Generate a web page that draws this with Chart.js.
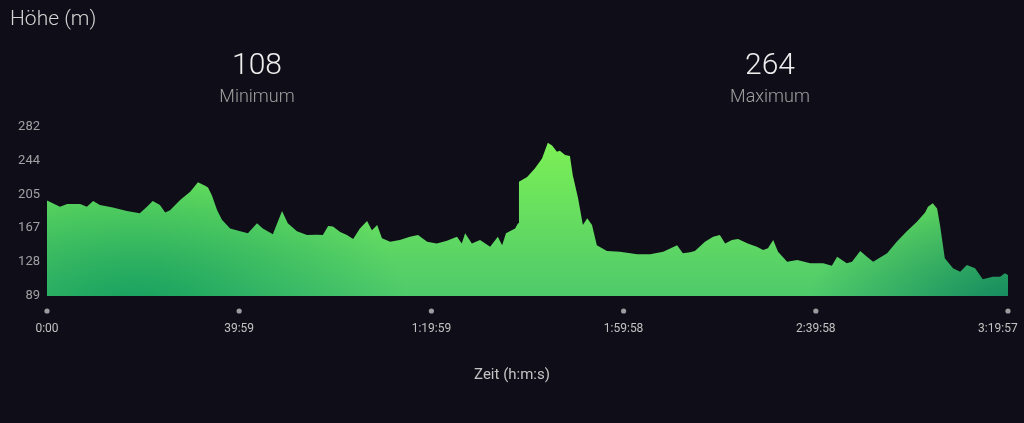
<!DOCTYPE html>
<html lang="de">
<head>
    <meta charset="UTF-8">
    <title>Höhe (m)</title>
    <script src="https://cdn.jsdelivr.net/npm/chart.js"></script>
    <style>
        * { margin: 0; padding: 0; box-sizing: border-box; }
        body { width: 1024px; height: 423px; background: #0f0e18; overflow: hidden; font-family: Roboto, 'Noto Sans', sans-serif; position: relative; }
        .title, .stat, .axis-title { will-change: transform; }
        .title { position: absolute; left: 10px; top: 6px; font-size: 21px; font-weight: 300; color: #d4d4d4; }
        .stat { position: absolute; top: 44px; width: 200px; text-align: center; }
        .stat .val { font-size: 30px; font-weight: 300; color: #eeeeee; line-height: 40px; }
        .stat .lbl { font-size: 18px; font-weight: 300; color: #a0a0a0; line-height: 24px; }
        .axis-title { position: absolute; left: 0; width: 1024px; top: 365px; text-align: center; font-size: 15px; color: #c4c4c4; }
        #wrap { position: absolute; left: 0; top: 0; width: 1024px; height: 423px; }
    </style>
</head>
<body>
    <div class="title">Höhe (m)</div>
    <div class="stat" style="left:157px"><div class="val">108</div><div class="lbl">Minimum</div></div>
    <div class="stat" style="left:670px"><div class="val">264</div><div class="lbl">Maximum</div></div>
    <div id="wrap"><canvas id="hoehe"></canvas></div>
    <div class="axis-title">Zeit (h:m:s)</div>

    <script>
        // Zeit in Minuten, Höhe in Metern
        const zeit = [0, 2.7, 4.2, 6.9, 8.3, 9.6, 11.0, 13.7, 16.6, 19.3, 20.8, 22.0, 23.5, 24.6, 25.6, 27.7, 29.8, 31.4, 32.9, 33.5,
            34.3, 35.4, 36.4, 38.1, 40.2, 41.8, 43.7, 44.9, 47.0, 48.9, 50.1, 52.0, 54.1, 56.2, 57.4, 58.5, 59.5, 61.0, 62.4, 63.7,
            65.1, 66.6, 67.6, 68.7, 69.7, 71.4, 73.4, 75.5, 77.2, 79.1, 81.1, 83.2, 85.3, 86.3, 87.0, 88.4, 90.1, 92.2, 93.8, 94.7,
            95.5, 97.4, 98.0, 98.2, 99.9, 101.5, 103.0, 104.2, 105.1, 106.1, 106.7, 107.8, 108.8, 109.4, 110.5, 111.5, 112.4, 113.4, 114.4, 116.5,
            119.2, 122.8, 125.5, 128.2, 131.1, 132.3, 133.8, 134.8, 136.9, 138.6, 140.0, 141.1, 142.5, 143.8, 145.8, 147.7, 149.0, 150.0, 151.1, 152.1,
            154.0, 156.1, 158.8, 161.5, 163.3, 164.4, 166.4, 167.5, 169.2, 170.6, 171.9, 174.8, 176.8, 178.9, 181.0, 182.7, 183.3, 184.3, 185.2, 185.8,
            186.8, 188.5, 190.0, 191.4, 193.1, 194.7, 196.8, 198.3, 199.3, 199.95];
        const hoehe = [198, 191, 194, 194, 191, 197.5, 193, 190, 186, 183.4, 191, 197.5, 193, 184.5, 187, 198.6, 208, 218.8, 215, 213,
            204, 187, 176, 166, 163, 160.6, 172, 166, 159.4, 186, 172, 163, 158.6, 159, 158.6, 169, 168.5, 162, 158.6, 154,
            166, 174.6, 164, 170, 155, 151, 153, 156.7, 158.6, 151, 149, 152, 156.7, 149, 160.6, 149, 153, 145.3, 156.7, 147,
            160.6, 166, 172, 219.5, 225, 234.7, 246, 264, 261, 253.7, 255, 250, 249, 227, 200.5, 170, 177.7, 170, 147, 140.4,
            139.6, 136.6, 136.6, 139.6, 147, 137.7, 139, 140.4, 151, 156.7, 158.6, 149, 153, 154, 149, 145.3, 141.5, 143.5, 153, 139.6,
            128.2, 130, 126.3, 126.3, 123.6, 133.9, 126.3, 128, 140.4, 133.9, 128.2, 137.7, 151, 163, 173.8, 184.5, 191, 194.8, 189, 170,
            132, 120.6, 116.7, 124.4, 120.6, 108, 111, 111, 115, 113];

        const yTicks = [89, 128, 167, 205, 244, 282];
        const xTicks = [0, 39.98, 79.98, 119.97, 159.97, 199.95];
        const xTickLabels = ['0:00', '39:59', '1:19:59', '1:59:58', '2:39:58', '3:19:57'];

        // Füllung: vertikaler Verlauf + dunklere Ecken unten
        function fillPattern(chart) {
            const area = chart.chartArea;
            if (!area) return '#55d06a';
            const off = document.createElement('canvas');
            off.width = chart.width; off.height = chart.height;
            const c = off.getContext('2d');
            const g = c.createLinearGradient(0, area.top + 15, 0, area.bottom);
            g.addColorStop(0, '#7cf055');
            g.addColorStop(1, '#4fca6b');
            c.fillStyle = g;
            c.fillRect(0, 0, off.width, off.height);
            // Ecke links unten (elliptisch)
            c.save();
            c.translate(area.left + 90, area.bottom + 20);
            c.scale(1.6, 1);
            const r1 = c.createRadialGradient(0, 0, 0, 0, 0, 170);
            r1.addColorStop(0, 'rgba(10,150,92,0.85)');
            r1.addColorStop(0.5, 'rgba(10,150,92,0.4)');
            r1.addColorStop(1, 'rgba(10,150,92,0)');
            c.fillStyle = r1;
            c.fillRect(-400, -400, 800, 800);
            c.restore();
            // Ecke rechts unten
            c.save();
            c.translate(area.right + 10, area.bottom + 15);
            c.scale(1.5, 1);
            const r2 = c.createRadialGradient(0, 0, 0, 0, 0, 140);
            r2.addColorStop(0, 'rgba(10,128,92,0.95)');
            r2.addColorStop(0.5, 'rgba(10,128,92,0.45)');
            r2.addColorStop(1, 'rgba(10,128,92,0)');
            c.fillStyle = r2;
            c.fillRect(-400, -400, 800, 800);
            c.restore();
            return chart.ctx.createPattern(off, 'no-repeat');
        }

        // graue Punkte über den Zeit-Labels
        const tickDots = {
            id: 'tickDots',
            afterDraw(chart) {
                const ctx = chart.ctx;
                const xs = chart.scales.x;
                ctx.save();
                ctx.fillStyle = '#9c9ca0';
                xTicks.forEach(v => {
                    ctx.beginPath();
                    ctx.arc(xs.getPixelForValue(v), 311, 2.6, 0, Math.PI * 2);
                    ctx.fill();
                });
                ctx.restore();
            }
        };

        const ctx = document.getElementById('hoehe').getContext('2d');
        new Chart(ctx, {
            type: 'line',
            data: {
                datasets: [{
                    data: zeit.map((t, i) => ({ x: t, y: hoehe[i] })),
                    fill: 'start',
                    backgroundColor: (c) => fillPattern(c.chart),
                    borderWidth: 0,
                    pointRadius: 0,
                    tension: 0
                }]
            },
            options: {
                responsive: true,
                maintainAspectRatio: false,
                animation: false,
                layout: { padding: { top: 127, right: 16, left: 0, bottom: 0 } },
                plugins: { legend: { display: false }, tooltip: { enabled: false } },
                scales: {
                    x: {
                        type: 'linear',
                        min: 0,
                        max: 199.95,
                        afterFit: s => { s.height = 127; s.paddingLeft = 0; s.paddingRight = 0; },
                        afterBuildTicks: s => { s.ticks = xTicks.map(v => ({ value: v })); },
                        grid: { display: false, drawTicks: false },
                        border: { display: false },
                        ticks: {
                            padding: 26,
                            maxRotation: 0,
                            autoSkip: false,
                            color: '#c2c2c2',
                            font: { family: 'Roboto', size: 12 },
                            // letztes Label bündig am rechten Rand
                            callback: (v, i) => i === xTickLabels.length - 1 ? xTickLabels[i] + '\u2007\u2007\u2007' : xTickLabels[i]
                        }
                    },
                    y: {
                        min: 89,
                        max: 282,
                        afterFit: s => { s.width = 47; s.paddingTop = 0; s.paddingBottom = 0; },
                        afterBuildTicks: s => { s.ticks = yTicks.map(v => ({ value: v })); },
                        grid: { display: false, drawTicks: false },
                        border: { display: false },
                        ticks: {
                            padding: 7,
                            color: '#a0a0a4',
                            font: { family: 'Roboto', size: 13 },
                            callback: v => v
                        }
                    }
                }
            },
            plugins: [tickDots]
        });
    </script>
</body>
</html>
